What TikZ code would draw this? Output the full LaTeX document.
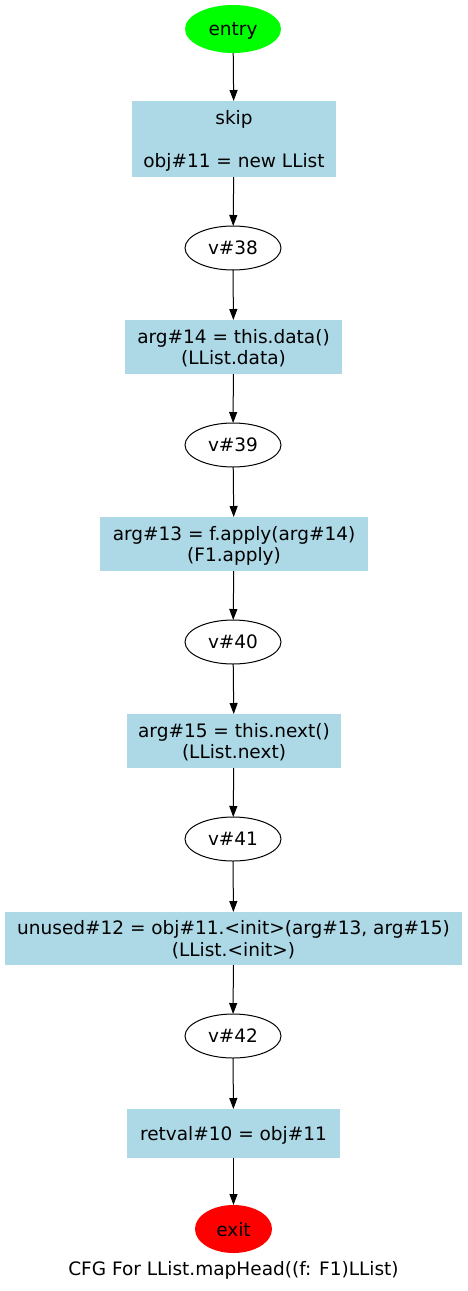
\documentclass[tikz,border=0pt]{standalone}
\usepackage{fontspec}
\setmainfont{DejaVu Sans}
\usetikzlibrary{arrows.meta,shapes.geometric}
\begin{document}
\begin{tikzpicture}[x=1pt,y=-1pt,
  every node/.style={font=\fontsize{18.5}{21.5}\selectfont, inner sep=0pt, outer sep=0pt, text depth=0pt},
  stmt/.style={rectangle, fill={rgb,255:red,173;green,216;blue,230}, align=center},
  var/.style={ellipse, draw, line width=1pt, minimum width=96pt, minimum height=44pt},
  conn/.style={draw, line width=1pt, -{Triangle[length=11pt,width=8pt]}}
]
\useasboundingbox (0,0) rectangle (467,1291);
\node[ellipse, fill={rgb,255:red,0;green,255;blue,0}, minimum width=96pt, minimum height=48pt] (entry) at (233,29) {entry};
\node[stmt, minimum width=204pt, minimum height=76pt] (s1) at (234,139) {skip\\ \\obj\#11 = new LList};
\node[var] (v38) at (233,248) {v\#38};
\node[stmt, minimum width=217pt, minimum height=54pt] (s2) at (233.5,347) {arg\#14 = this.data()\\(LList.data)};
\node[var] (v39) at (233,445) {v\#39};
\node[stmt, minimum width=268pt, minimum height=54pt] (s3) at (234,544) {arg\#13 = f.apply(arg\#14)\\(F1.apply)};
\node[var] (v40) at (233,642) {v\#40};
\node[stmt, minimum width=214pt, minimum height=54pt] (s4) at (234,741) {arg\#15 = this.next()\\(LList.next)};
\node[var] (v41) at (233,839) {v\#41};
\node[stmt, minimum width=457pt, minimum height=53pt] (s5) at (233.5,938.5) {unused\#12 = obj\#11.<init>(arg\#13, arg\#15)\\(LList.<init>)};
\node[var] (v42) at (233,1036) {v\#42};
\node[stmt, minimum width=213pt, minimum height=49pt] (s6) at (233.5,1133.5) {retval\#10 = obj\#11};
\node[ellipse, fill={rgb,255:red,255;green,0;blue,0}, minimum width=77pt, minimum height=48pt] (exit) at (233.5,1229) {exit};
\node (cap) at (233.5,1268) {CFG For LList.mapHead((f: F1)LList)};
\draw[conn] (entry) -- (s1);
\draw[conn] (s1) -- (v38);
\draw[conn] (v38) -- (s2);
\draw[conn] (s2) -- (v39);
\draw[conn] (v39) -- (s3);
\draw[conn] (s3) -- (v40);
\draw[conn] (v40) -- (s4);
\draw[conn] (s4) -- (v41);
\draw[conn] (v41) -- (s5);
\draw[conn] (s5) -- (v42);
\draw[conn] (v42) -- (s6);
\draw[conn] (s6) -- (exit);
\end{tikzpicture}
\end{document}
